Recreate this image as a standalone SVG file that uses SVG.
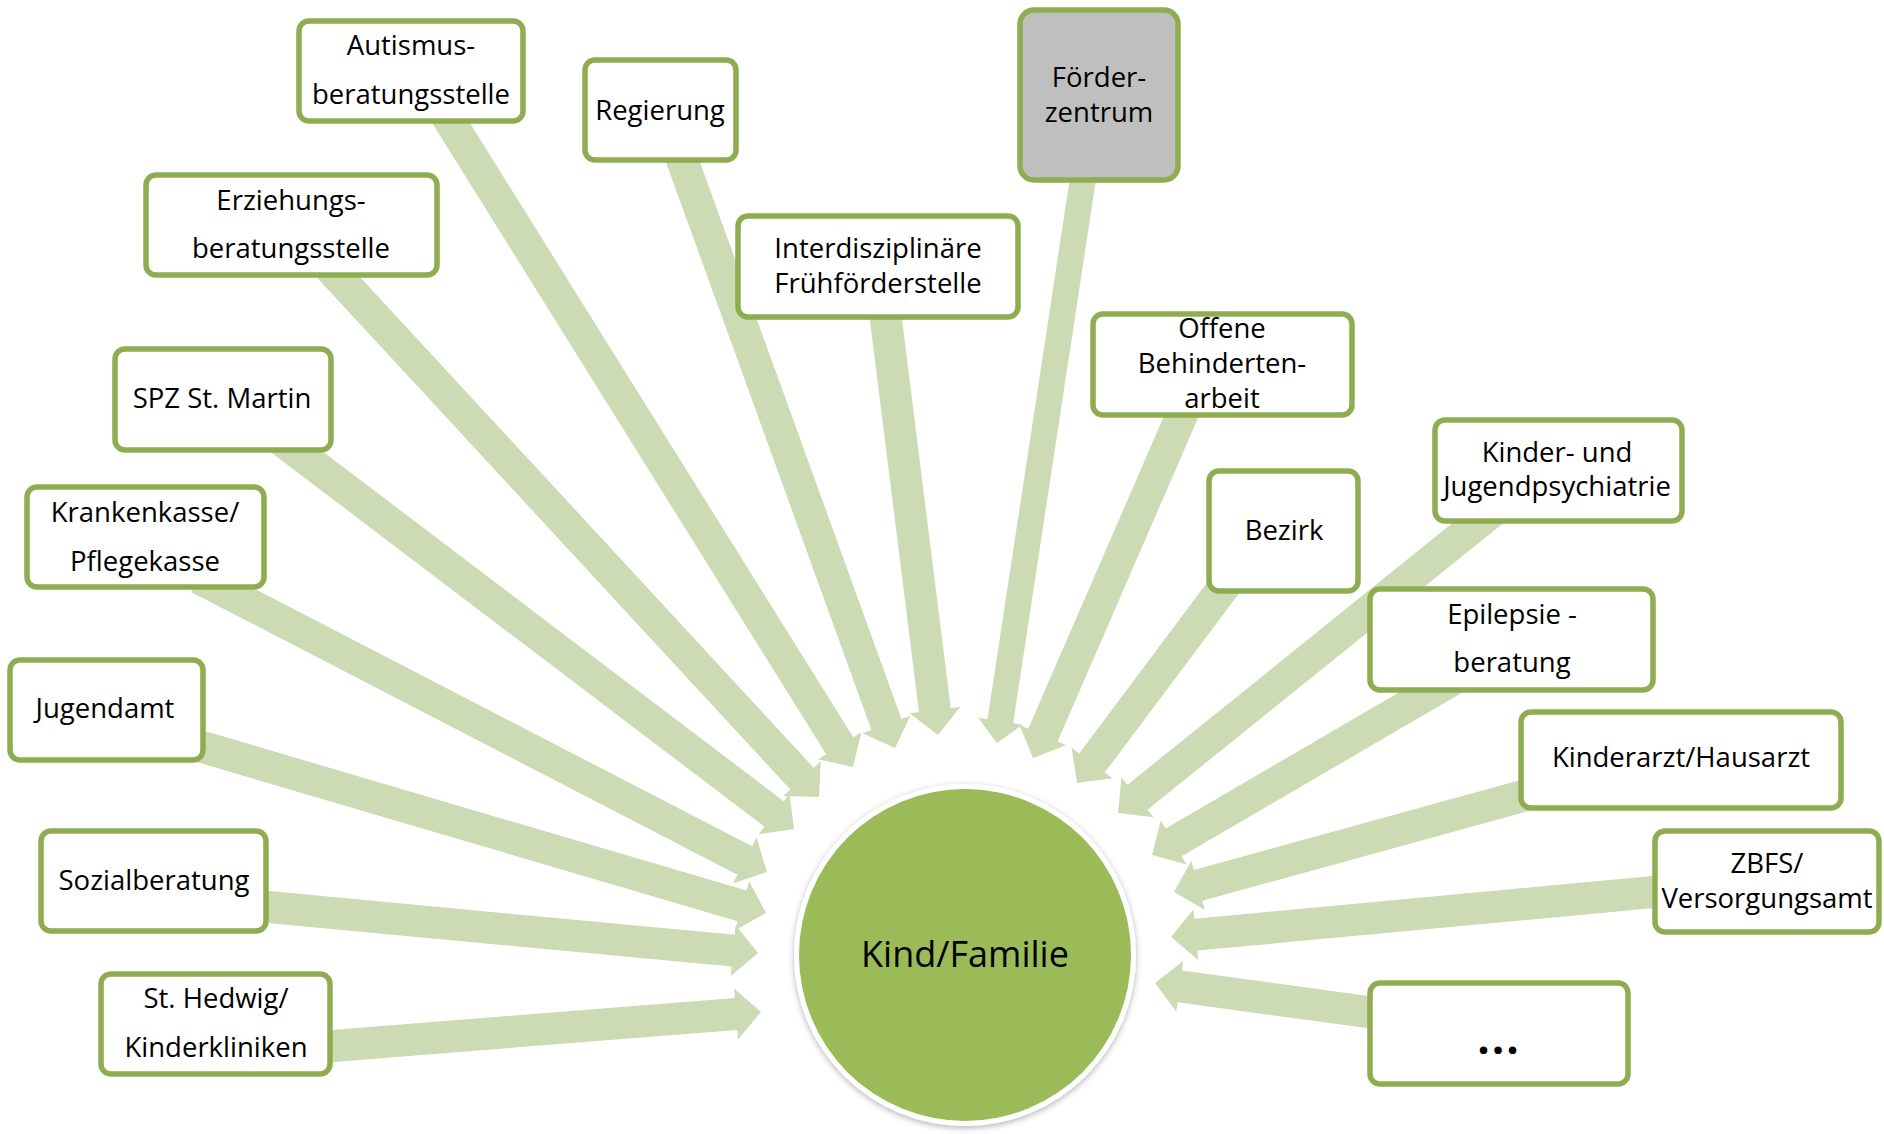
<svg xmlns="http://www.w3.org/2000/svg" width="1884" height="1134" viewBox="0 0 1884 1134">
<style>
.n rect{fill:#fff;stroke:#8eac50;stroke-width:5.5}
.n.g rect{fill:#bfbfbf}
text{font-family:"Open Sans","Noto Sans","DejaVu Sans",sans-serif;font-size:27.5px;fill:#000;text-anchor:middle}
.arr path{fill:#cddbb5}
</style>
<defs>
<filter id="sh" x="-20%" y="-20%" width="140%" height="140%">
<feDropShadow dx="0" dy="2" stdDeviation="3" flood-color="#000" flood-opacity="0.3"/>
</filter>
</defs>
<rect width="1884" height="1134" fill="#fff"/>
<g id="connectors" class="arr">
<path transform="matrix(0.5295 0.8483 -0.8483 0.5295 853 767)" d="M0 0L-25 -25.5L-25 -16L-775 -16L-775 16L-25 16L-25 25.5Z"/>
<path transform="matrix(0.6789 0.7343 -0.7343 0.6789 819 797)" d="M0 0L-25 -25.5L-25 -16L-724 -16L-724 16L-25 16L-25 25.5Z"/>
<path transform="matrix(0.7967 0.6044 -0.6044 0.7967 794 829)" d="M0 0L-25 -25.5L-25 -16L-645 -16L-645 16L-25 16L-25 25.5Z"/>
<path transform="matrix(0.8881 0.4595 -0.4595 0.8881 767 872)" d="M0 0L-25 -25.5L-25 -16L-640 -16L-640 16L-25 16L-25 25.5Z"/>
<path transform="matrix(0.9592 0.2825 -0.2825 0.9592 766 913)" d="M0 0L-25 -25.5L-25 -16L-620 -16L-620 16L-25 16L-25 25.5Z"/>
<path transform="matrix(0.9955 0.0935 -0.0935 0.9955 758 953)" d="M0 0L-25 -25.5L-25 -16L-520 -16L-520 16L-25 16L-25 25.5Z"/>
<path transform="matrix(0.9970 -0.0790 0.0790 0.9970 761 1012)" d="M0 0L-25 -25.5L-25 -16L-455 -16L-455 16L-25 16L-25 25.5Z"/>
<path transform="matrix(0.3403 0.9403 -0.9403 0.3403 895 748)" d="M0 0L-25 -25.5L-25 -16L-640 -16L-640 16L-25 16L-25 25.5Z"/>
<path transform="matrix(0.1243 0.9923 -0.9923 0.1243 938 735)" d="M0 0L-25 -25.5L-25 -16L-440 -16L-440 16L-25 16L-25 25.5Z"/>
<path transform="matrix(-0.1506 0.9886 -0.9886 -0.1506 997 743)" d="M0 0L-22 -22.5L-22 -13L-585 -13L-585 13L-22 13L-22 22.5Z"/>
<path transform="matrix(-0.3982 0.9174 -0.9174 -0.3982 1033 758)" d="M0 0L-25 -25.5L-25 -16L-395 -16L-395 16L-25 16L-25 25.5Z"/>
<path transform="matrix(-0.5993 0.8005 -0.8005 -0.5993 1077 783)" d="M0 0L-25 -25.5L-25 -16L-265 -16L-265 16L-25 16L-25 25.5Z"/>
<path transform="matrix(-0.7787 0.6273 -0.6273 -0.7787 1118 813)" d="M0 0L-25 -25.5L-25 -16L-485 -16L-485 16L-25 16L-25 25.5Z"/>
<path transform="matrix(-0.8636 0.5038 -0.5038 -0.8636 1152 855)" d="M0 0L-25 -25.5L-25 -16L-360 -16L-360 16L-25 16L-25 25.5Z"/>
<path transform="matrix(-0.9640 0.2655 -0.2655 -0.9640 1174 892)" d="M0 0L-25 -25.5L-25 -16L-380 -16L-380 16L-25 16L-25 25.5Z"/>
<path transform="matrix(-0.9957 0.0928 -0.0928 -0.9957 1171 937)" d="M0 0L-25 -25.5L-25 -16L-506 -16L-506 16L-25 16L-25 25.5Z"/>
<path transform="matrix(-0.9907 -0.1355 0.1355 -0.9907 1155 983)" d="M0 0L-25 -25.5L-25 -16L-243 -16L-243 16L-25 16L-25 25.5Z"/>
</g>
<g id="center">
<circle cx="965" cy="955" r="171" fill="#fff" filter="url(#sh)"/>
<circle cx="965" cy="955" r="166" fill="#9bbb59"/>
<text x="965" y="967" style="font-size:36px">Kind/Familie</text>
</g>
<g id="autismus" class="n"><rect x="299" y="21" width="224" height="100" rx="10"/><text x="411" y="55">Autismus-</text><text x="411" y="104">beratungsstelle</text></g>
<g id="regierung" class="n"><rect x="585" y="60" width="151" height="100" rx="10"/><text x="660" y="120">Regierung</text></g>
<g id="erziehung" class="n"><rect x="146" y="175" width="291" height="100" rx="10"/><text x="291" y="210">Erziehungs-</text><text x="291" y="258">beratungsstelle</text></g>
<g id="spz" class="n"><rect x="115" y="349" width="216" height="101" rx="10"/><text x="222" y="408">SPZ St. Martin</text></g>
<g id="foerderzentrum" class="n g"><rect x="1020" y="10" width="158" height="170" rx="14"/><text x="1099" y="87">Förder-</text><text x="1099" y="122">zentrum</text></g>
<g id="interdisziplinaer" class="n"><rect x="738" y="216" width="280" height="101" rx="10"/><text x="878" y="258">Interdisziplinäre</text><text x="878" y="293">Frühförderstelle</text></g>
<g id="offene" class="n"><rect x="1093" y="314" width="259" height="101" rx="10"/><text x="1222" y="338">Offene</text><text x="1222" y="373">Behinderten-</text><text x="1222" y="408">arbeit</text></g>
<g id="bezirk" class="n"><rect x="1209" y="471" width="149" height="120" rx="10"/><text x="1284" y="540">Bezirk</text></g>
<g id="kjp" class="n"><rect x="1435" y="420" width="247" height="101" rx="10"/><text x="1557" y="462">Kinder- und</text><text x="1557" y="496">Jugendpsychiatrie</text></g>
<g id="epilepsie" class="n"><rect x="1370" y="589" width="283" height="101" rx="10"/><text x="1512" y="624">Epilepsie -</text><text x="1512" y="672">beratung</text></g>
<g id="kinderarzt" class="n"><rect x="1521" y="712" width="320" height="96" rx="10"/><text x="1681" y="767">Kinderarzt/Hausarzt</text></g>
<g id="zbfs" class="n"><rect x="1655" y="831" width="224" height="101" rx="10"/><text x="1767" y="873">ZBFS/</text><text x="1767" y="908">Versorgungsamt</text></g>
<g id="weitere" class="n"><rect x="1370" y="983" width="258" height="101" rx="10"/><text x="1499" y="1054" style="font-size:44px;font-weight:bold;letter-spacing:2px">...</text></g>
<g id="krankenkasse" class="n"><rect x="27" y="487" width="237" height="100" rx="10"/><text x="145" y="522">Krankenkasse/</text><text x="145" y="571">Pflegekasse</text></g>
<g id="jugendamt" class="n"><rect x="10" y="660" width="193" height="100" rx="10"/><text x="105" y="718">Jugendamt</text></g>
<g id="sozialberatung" class="n"><rect x="41" y="831" width="225" height="100" rx="10"/><text x="154" y="890">Sozialberatung</text></g>
<g id="hedwig" class="n"><rect x="101" y="974" width="229" height="100" rx="10"/><text x="216" y="1008">St. Hedwig/</text><text x="216" y="1057">Kinderkliniken</text></g>
</svg>
